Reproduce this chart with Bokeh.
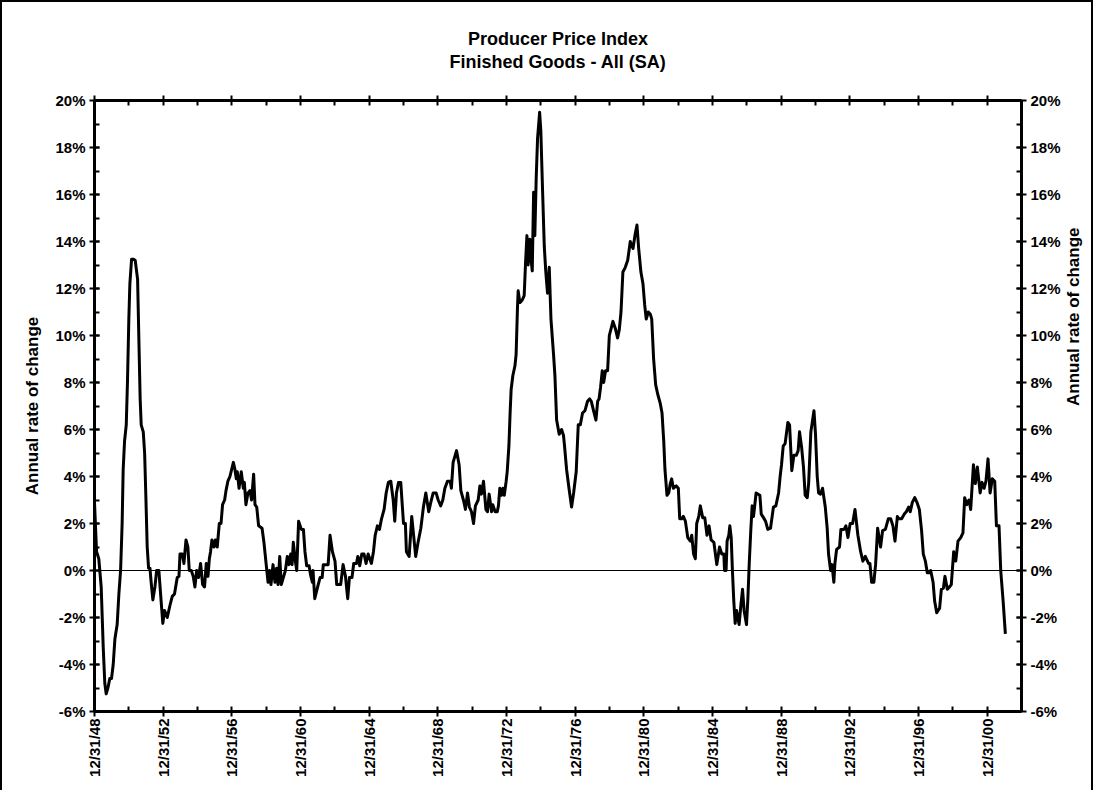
import numpy as np
from bokeh.plotting import figure
from bokeh.models import (FixedTicker, LinearAxis, Range1d, Span, Title,
                          PrintfTickFormatter)
from bokeh.embed import file_html
from bokeh.resources import INLINE

# ---------------- data ----------------
dates = [
    1949.00, 1949.12, 1949.25, 1949.39, 1949.51, 1949.60, 1949.68, 1949.78, 1949.89, 1949.99,
    1950.09, 1950.19, 1950.32, 1950.42, 1950.52, 1950.61, 1950.67, 1950.75, 1950.85, 1950.92,
    1951.00, 1951.06, 1951.16, 1951.25, 1951.37, 1951.51, 1951.58, 1951.66, 1951.72, 1951.84,
    1951.92, 1951.99, 1952.07, 1952.15, 1952.23, 1952.30, 1952.40, 1952.52, 1952.62, 1952.75,
    1952.87, 1952.98, 1953.08, 1953.24, 1953.39, 1953.53, 1953.66, 1953.82, 1953.92, 1953.98,
    1954.11, 1954.21, 1954.33, 1954.44, 1954.52, 1954.64, 1954.75, 1954.85, 1954.95, 1955.06,
    1955.18, 1955.30, 1955.41, 1955.51, 1955.61, 1955.69, 1955.76, 1955.84, 1955.96, 1956.04,
    1956.15, 1956.27, 1956.37, 1956.46, 1956.58, 1956.66, 1956.77, 1956.89, 1956.99, 1957.09,
    1957.18, 1957.26, 1957.32, 1957.42, 1957.55, 1957.67, 1957.73, 1957.82, 1957.94, 1958.06,
    1958.15, 1958.27, 1958.35, 1958.45, 1958.56, 1958.76, 1958.87, 1959.01, 1959.11, 1959.20,
    1959.28, 1959.40, 1959.51, 1959.61, 1959.69, 1959.79, 1959.88, 1960.00, 1960.12, 1960.23,
    1960.33, 1960.43, 1960.51, 1960.58, 1960.70, 1960.78, 1960.89, 1961.05, 1961.17, 1961.26,
    1961.36, 1961.50, 1961.59, 1961.69, 1961.73, 1961.83, 1961.98, 1962.14, 1962.26, 1962.33,
    1962.61, 1962.72, 1962.86, 1963.01, 1963.11, 1963.34, 1963.48, 1963.62, 1963.75, 1963.85,
    1964.00, 1964.10, 1964.26, 1964.34, 1964.45, 1964.57, 1964.70, 1964.82, 1964.94, 1965.13,
    1965.25, 1965.35, 1965.48, 1965.60, 1965.72, 1965.87, 1965.99, 1966.12, 1966.26, 1966.40,
    1966.49, 1966.59, 1966.71, 1966.84, 1967.00, 1967.11, 1967.17, 1967.33, 1967.48, 1967.71,
    1967.85, 1968.01, 1968.16, 1968.30, 1968.47, 1968.59, 1968.73, 1968.90, 1969.02, 1969.17,
    1969.29, 1969.41, 1969.56, 1969.72, 1969.79, 1969.89, 1970.09, 1970.24, 1970.34, 1970.49,
    1970.61, 1970.73, 1970.84, 1970.96, 1971.08, 1971.19, 1971.35, 1971.45, 1971.54, 1971.66,
    1971.80, 1971.89, 1971.99, 1972.13, 1972.20, 1972.34, 1972.46, 1972.53, 1972.61, 1972.71,
    1972.79, 1972.87, 1972.98, 1973.04, 1973.14, 1973.21, 1973.27, 1973.37, 1973.49, 1973.56,
    1973.64, 1973.68, 1973.78, 1973.91, 1974.03, 1974.11, 1974.19, 1974.26, 1974.36, 1974.42,
    1974.50, 1974.58, 1974.65, 1974.73, 1974.81, 1974.93, 1975.00, 1975.10, 1975.20, 1975.29,
    1975.39, 1975.49, 1975.59, 1975.74, 1975.82, 1975.92, 1976.07, 1976.21, 1976.32, 1976.38,
    1976.50, 1976.64, 1976.79, 1976.91, 1977.06, 1977.18, 1977.30, 1977.43, 1977.57, 1977.72,
    1977.84, 1977.94, 1978.07, 1978.21, 1978.31, 1978.39, 1978.48, 1978.58, 1978.66, 1978.77,
    1978.89, 1978.99, 1979.20, 1979.34, 1979.47, 1979.57, 1979.67, 1979.78, 1979.92, 1980.06,
    1980.21, 1980.37, 1980.48, 1980.60, 1980.70, 1980.83, 1980.95, 1981.05, 1981.14, 1981.26,
    1981.38, 1981.46, 1981.57, 1981.69, 1981.81, 1981.96, 1982.06, 1982.16, 1982.23, 1982.35,
    1982.45, 1982.54, 1982.62, 1982.72, 1982.89, 1983.01, 1983.09, 1983.20, 1983.30, 1983.42,
    1983.56, 1983.71, 1983.79, 1983.90, 1984.00, 1984.08, 1984.20, 1984.29, 1984.43, 1984.55,
    1984.68, 1984.80, 1984.92, 1985.08, 1985.25, 1985.41, 1985.54, 1985.66, 1985.70, 1985.79,
    1985.85, 1985.95, 1986.01, 1986.09, 1986.16, 1986.24, 1986.32, 1986.40, 1986.55, 1986.65,
    1986.75, 1986.84, 1986.98, 1987.06, 1987.14, 1987.23, 1987.31, 1987.39, 1987.54, 1987.76,
    1987.84, 1987.97, 1988.09, 1988.22, 1988.38, 1988.55, 1988.69, 1988.85, 1988.94, 1989.02,
    1989.12, 1989.23, 1989.39, 1989.49, 1989.62, 1989.74, 1989.88, 1989.99, 1990.07, 1990.19,
    1990.30, 1990.40, 1990.52, 1990.60, 1990.73, 1990.91, 1991.00, 1991.10, 1991.18, 1991.29,
    1991.41, 1991.57, 1991.68, 1991.76, 1991.88, 1991.96, 1992.07, 1992.13, 1992.23, 1992.40,
    1992.48, 1992.66, 1992.77, 1992.89, 1993.02, 1993.16, 1993.30, 1993.47, 1993.63, 1993.76,
    1993.90, 1994.09, 1994.17, 1994.27, 1994.40, 1994.50, 1994.62, 1994.79, 1994.91, 1995.07,
    1995.24, 1995.38, 1995.51, 1995.63, 1995.77, 1995.86, 1996.02, 1996.17, 1996.29, 1996.43,
    1996.52, 1996.64, 1996.78, 1996.91, 1997.05, 1997.18, 1997.28, 1997.40, 1997.51, 1997.61,
    1997.71, 1997.85, 1997.94, 1998.06, 1998.23, 1998.33, 1998.45, 1998.54, 1998.68, 1998.80,
    1998.91, 1999.05, 1999.17, 1999.30, 1999.46, 1999.59, 1999.69, 1999.81, 1999.94, 2000.04,
    2000.20, 2000.31, 2000.43, 2000.59, 2000.70, 2000.82, 2000.93, 2001.05, 2001.17, 2001.30,
    2001.44, 2001.54, 2001.69, 2001.79, 2001.93, 2002.06,
]

ppi_change = [
    2.9, 0.8, 0.5, -0.7, -3.3, -4.8, -5.25, -5.0, -4.6, -4.6,
    -4.0, -2.9, -2.3, -1.0, 0.0, 2.0, 4.3, 5.5, 6.2, 8.0,
    10.7, 12.2, 13.25, 13.25, 13.2, 12.4, 10.0, 7.3, 6.2, 5.9,
    5.0, 3.2, 1.0, 0.1, 0.1, -0.5, -1.25, -0.7, 0.0, 0.0,
    -1.2, -2.25, -1.7, -2.0, -1.5, -1.1, -1.0, -0.3, -0.25, 0.7,
    0.7, 0.3, 1.3, 1.0, 0.0, 0.0, -0.25, -0.7, 0.0, -0.3,
    0.3, -0.6, -0.7, 0.3, -0.25, 0.5, 0.8, 1.3, 1.0, 1.3,
    1.0, 2.0, 2.0, 2.8, 3.0, 3.4, 3.8, 4.0, 4.3, 4.6,
    4.3, 3.9, 4.2, 3.5, 4.2, 3.5, 3.75, 2.8, 3.3, 3.4,
    3.0, 4.1, 2.8, 2.7, 1.9, 1.8, 1.2, 0.2, -0.5, 0.0,
    -0.6, 0.25, -0.5, 0.1, -0.6, 0.6, -0.6, -0.3, 0.0, 0.6,
    0.25, 0.7, 0.25, 1.2, 0.4, 0.0, 2.1, 1.75, 1.75, 0.8,
    0.2, 0.2, -0.2, -0.5, 0.0, -1.2, -0.75, -0.3, -0.3, 0.25,
    0.25, 1.5, 0.8, 0.4, -0.6, -0.6, 0.25, -0.25, -1.2, -0.3,
    -0.3, 0.3, 0.3, 0.6, 0.2, 0.7, 0.7, 0.3, 0.7, 0.3,
    0.8, 1.5, 1.9, 1.75, 2.2, 2.6, 3.3, 3.75, 3.8, 3.0,
    2.1, 3.3, 3.75, 3.75, 2.0, 2.0, 0.8, 0.6, 2.3, 0.6,
    1.2, 1.8, 2.7, 3.3, 2.5, 2.9, 3.3, 3.3, 3.0, 2.75,
    3.0, 3.5, 3.8, 3.8, 3.5, 4.6, 5.1, 4.5, 3.4, 3.0,
    2.6, 3.3, 2.7, 2.5, 2.0, 2.75, 3.0, 3.6, 3.25, 3.8,
    2.6, 2.5, 3.25, 2.5, 2.8, 2.5, 2.5, 2.75, 3.5, 3.2,
    3.5, 3.2, 3.8, 4.2, 5.3, 6.7, 7.7, 8.3, 8.7, 9.2,
    11.2, 11.9, 11.4, 11.5, 11.7, 13.1, 14.25, 13.0, 14.1, 13.3,
    12.75, 16.1, 14.25, 16.7, 18.4, 19.5, 18.7, 16.2, 13.8, 12.7,
    11.8, 12.9, 10.7, 9.2, 8.3, 6.4, 5.8, 6.0, 5.75, 5.3,
    4.3, 3.5, 2.7, 3.3, 4.2, 6.2, 6.2, 6.7, 6.8, 7.2,
    7.3, 7.2, 6.8, 6.4, 7.2, 7.3, 7.8, 8.5, 8.0, 8.5,
    8.5, 10.0, 10.6, 10.3, 9.9, 10.25, 11.0, 12.7, 12.9, 13.2,
    14.0, 13.7, 14.25, 14.7, 13.7, 12.7, 12.2, 11.3, 10.7, 11.0,
    10.9, 10.7, 9.0, 7.9, 7.5, 7.1, 6.7, 5.5, 4.3, 3.2,
    3.3, 3.7, 3.9, 3.5, 3.6, 3.5, 2.2, 2.2, 2.3, 2.1,
    1.4, 1.25, 1.5, 0.7, 0.5, 2.0, 2.3, 2.75, 2.25, 2.25,
    1.5, 1.9, 1.3, 1.2, 0.25, 1.0, 0.7, 0.7, 0.0, 0.0,
    1.25, 1.5, 1.9, 1.4, 0.0, -1.3, -2.25, -1.7, -2.3, -1.5,
    -0.8, -1.7, -2.3, -1.2, 0.3, 1.7, 2.75, 2.3, 3.3, 3.2,
    2.4, 2.25, 2.1, 1.75, 1.8, 2.7, 2.75, 3.3, 4.0, 4.5,
    5.3, 5.4, 6.3, 6.2, 4.25, 4.9, 4.9, 5.1, 5.9, 5.25,
    4.4, 3.2, 3.1, 3.7, 5.9, 6.8, 5.8, 4.0, 3.3, 3.25,
    3.5, 2.7, 1.8, 0.7, 0.0, 0.25, -0.5, 0.3, 0.9, 1.0,
    1.75, 1.75, 1.9, 1.4, 2.0, 2.0, 2.6, 1.5, 0.8, 0.4,
    0.6, 0.3, 0.3, -0.5, -0.5, 0.25, 1.8, 1.0, 1.7, 1.75,
    2.2, 2.2, 1.9, 1.25, 2.3, 2.2, 2.2, 2.4, 2.5, 2.7,
    2.5, 2.9, 3.1, 2.9, 2.6, 1.7, 0.7, 0.4, -0.1, -0.1,
    0.0, -0.5, -1.3, -1.8, -1.6, -0.8, -0.75, -0.25, -0.8, -0.7,
    -0.6, 0.8, 0.4, 1.25, 1.4, 1.6, 3.1, 2.8, 3.0, 2.6,
    4.5, 3.7, 4.4, 3.3, 3.75, 3.5, 3.8, 4.75, 3.3, 3.9,
    3.8, 1.9, 1.9, 0.0, -1.3, -2.7,
]

x_tick_years = [1949, 1953, 1957, 1961, 1965, 1969, 1973, 1977, 1981, 1985, 1989, 1993, 1997, 2001]
x_tick_labels = ["12/31/48", "12/31/52", "12/31/56", "12/31/60", "12/31/64", "12/31/68", "12/31/72",
                 "12/31/76", "12/31/80", "12/31/84", "12/31/88", "12/31/92", "12/31/96", "12/31/00"]
x_minor_years = [1951, 1955, 1959, 1963, 1967, 1971, 1975, 1979, 1983, 1987, 1991, 1995, 1999, 2003]
y_ticks = [-6, -4, -2, 0, 2, 4, 6, 8, 10, 12, 14, 16, 18, 20]
y_minor = list(range(-6, 21))

title_1 = "Producer Price Index"
title_2 = "Finished Goods - All (SA)"
y_label = "Annual rate of change"

# ---------------- figure ----------------
FONT = "Liberation Sans"
p = figure(width=1093, height=790, output_backend="svg", toolbar_location=None,
           x_range=Range1d(1949, 2003), y_range=Range1d(-6, 20),
           min_border_left=92, min_border_right=70, min_border_top=98, min_border_bottom=81,
           background_fill_color="white", border_fill_color="white")
p.xaxis.visible = False
p.yaxis.visible = False
p.xgrid.visible = False
p.ygrid.visible = False
p.outline_line_color = None
p.styles = {"border-top": "2px solid black", "border-left": "2px solid black",
            "border-right": "2px solid black"}


def style_axis(ax):
    ax.axis_line_width = 3
    ax.axis_line_color = "black"
    ax.major_tick_line_width = 2
    ax.minor_tick_line_width = 2
    ax.major_tick_in = 5
    ax.major_tick_out = 5
    ax.minor_tick_in = 5
    ax.minor_tick_out = 0
    ax.major_label_text_font = FONT
    ax.major_label_text_font_style = "bold"
    ax.major_label_text_font_size = "15px"
    ax.major_label_text_color = "black"
    ax.axis_label_text_font = FONT
    ax.axis_label_text_font_style = "bold"
    ax.axis_label_text_font_size = "17px"
    ax.axis_label_text_color = "black"


xt = FixedTicker(ticks=x_tick_years, minor_ticks=x_minor_years)
yt = FixedTicker(ticks=y_ticks, minor_ticks=y_minor)

bottom = LinearAxis(ticker=xt)
style_axis(bottom)
bottom.major_label_overrides = {y: l for y, l in zip(x_tick_years, x_tick_labels)}
bottom.major_label_orientation = np.pi / 2
bottom.major_label_standoff = 2
p.add_layout(bottom, "below")

# top axis: ticks only; its axis label carries the second title line
top = LinearAxis(ticker=xt, axis_label=title_2)
style_axis(top)
top.major_label_overrides = {y: "" for y in x_tick_years}
top.major_label_text_font_size = "0px"
top.major_label_standoff = 0
top.axis_label_standoff = 24
top.axis_label_text_font_size = "18px"
p.add_layout(top, "above")

left = LinearAxis(ticker=yt, formatter=PrintfTickFormatter(format="%d%%"), axis_label=y_label)
style_axis(left)
left.major_label_standoff = 4
left.axis_label_standoff = 10
p.add_layout(left, "left")

right = LinearAxis(ticker=yt, formatter=PrintfTickFormatter(format="%d%%"), axis_label=y_label)
style_axis(right)
right.major_label_standoff = 4
right.axis_label_standoff = 10
try:
    right.axis_label_orientation = np.pi / 2
except Exception:
    pass
p.add_layout(right, "right")

p.add_layout(Span(location=0, dimension="width", line_color="black", line_width=1))

p.line(dates, ppi_change, line_color="black", line_width=3, line_join="round")

t1 = Title(text=title_1, align="center", text_font=FONT, text_font_style="bold",
           text_font_size="18px", text_color="black", standoff=0)
p.add_layout(t1, "above")

open("out.html", "w").write(file_html(p, INLINE))
